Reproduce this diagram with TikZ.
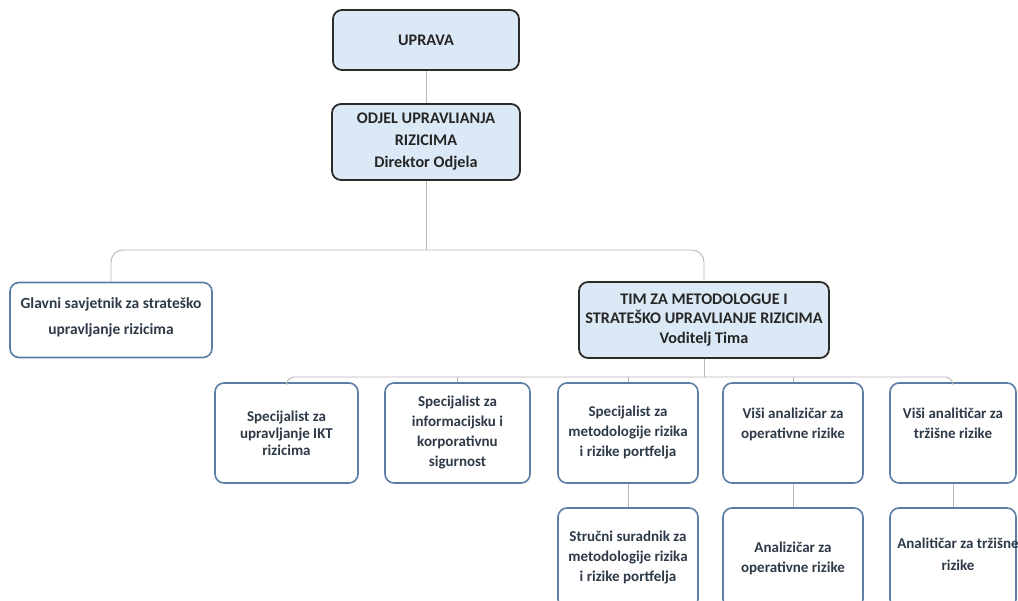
\documentclass[tikz,border=0pt]{standalone}
\usepackage{fontspec}
\setmainfont{Carlito}
\definecolor{hdfill}{HTML}{DBE8F5}
\definecolor{hdline}{HTML}{2B2B2B}
\definecolor{lowline}{HTML}{5A7EA6}
\definecolor{lowtext}{HTML}{2E3A48}
\definecolor{conn}{HTML}{B8B8B8}
\tikzset{
  hdbox/.style={draw=hdline, fill=hdfill, line width=1.8pt, rounded corners=9pt,
    align=center, inner sep=0pt, font=\fontsize{16.2}{22}\selectfont\bfseries, text=black!85},
  lowbox/.style={draw=lowline, fill=white, line width=1.6pt, rounded corners=9pt,
    align=center, inner sep=0pt, font=\fontsize{15}{20}\selectfont\bfseries, text=lowtext},
  lowtxt/.style={align=center, inner sep=0pt, font=\fontsize{15}{20}\selectfont\bfseries, text=lowtext},
  conline/.style={draw=conn, line width=0.9pt},
}
\begin{document}
\begin{tikzpicture}[x=1pt,y=-1pt]
\useasboundingbox (0,0) rectangle (1018,601);
\clip (0,0) rectangle (1018,601);
\fill[white] (0,0) rectangle (1018,601);
% header boxes
\node[hdbox, minimum width=186pt, minimum height=60pt] (uprava) at (426,40) {UPRAVA};
\node[hdbox, minimum width=188pt, minimum height=76pt] (odjel) at (426,142) {ODJEL UPRAVLIANJA\\RIZICIMA\\Direktor Odjela};
\node[lowbox, minimum width=202pt, minimum height=75pt, font=\fontsize{15.5}{26}\selectfont\bfseries] (glavni) at (111,320) {Glavni savjetnik za strateško\\upravljanje rizicima\\[-19pt]\mbox{}};
\node[hdbox, minimum width=250pt, minimum height=76pt, font=\fontsize{16.2}{19.5}\selectfont\bfseries] (tim) at (704,320) {TIM ZA METODOLOGUE I\\STRATEŠKO UPRAVLIANJE RIZICIMA\\Voditelj Tima};
% row 2
\node[lowbox, minimum width=143pt, minimum height=100pt, font=\fontsize{15}{17}\selectfont\bfseries] (a) at (286.5,433) {Specijalist za\\upravljanje IKT\\rizicima};
\node[lowbox, minimum width=145pt, minimum height=100pt] (b) at (457.5,433) {Specijalist za\\informacijsku i\\korporativnu\\sigurnost};
\node[lowbox, minimum width=140pt, minimum height=100pt] (c) at (628,433) {Specijalist za\\metodologije rizika\\i rizike portfelja};
\node[lowbox, minimum width=140pt, minimum height=100pt] (d) at (793,433) {Viši analizičar za\\operativne rizike\\\mbox{}};
\node[lowbox, minimum width=126pt, minimum height=100pt] (e) at (953,433) {Viši analitičar za\\tržišne rizike\\\mbox{}};
% row 3
\node[lowbox, minimum width=140pt, minimum height=100pt] (c2) at (628,558) {Stručni suradnik za\\metodologije rizika\\i rizike portfelja};
\node[lowbox, minimum width=140pt, minimum height=100pt] (d2) at (793,558) {Analizičar za\\operativne rizike};
\node[lowbox, minimum width=126pt, minimum height=100pt] (e2) at (953,558) {};
\node[lowtxt, font=\fontsize{15}{22}\selectfont\bfseries] (e2t) at (958,554) {Analitičar za tržišne\\rizike};
% connectors
\coordinate (h1) at (426,250);
\coordinate (h2) at (704,377);
\draw[conline] (uprava.south) -- (odjel.north);
\draw[conline] (odjel.south) -- (h1);
\draw[conline, rounded corners=12pt] (glavni.north) |- (h1) -| (tim.north);
\draw[conline] (tim.south) -- (h2);
\draw[conline, rounded corners=8pt] (a.north) |- (h2) -| (e.north);
\draw[conline] (b.north) -- (b.north |- h2);
\draw[conline] (c.north) -- (c.north |- h2);
\draw[conline] (d.north) -- (d.north |- h2);
\draw[conline] (c.south) -- (c2.north);
\draw[conline] (d.south) -- (d2.north);
\draw[conline] (e.south) -- (e2.north);
\end{tikzpicture}
\end{document}
